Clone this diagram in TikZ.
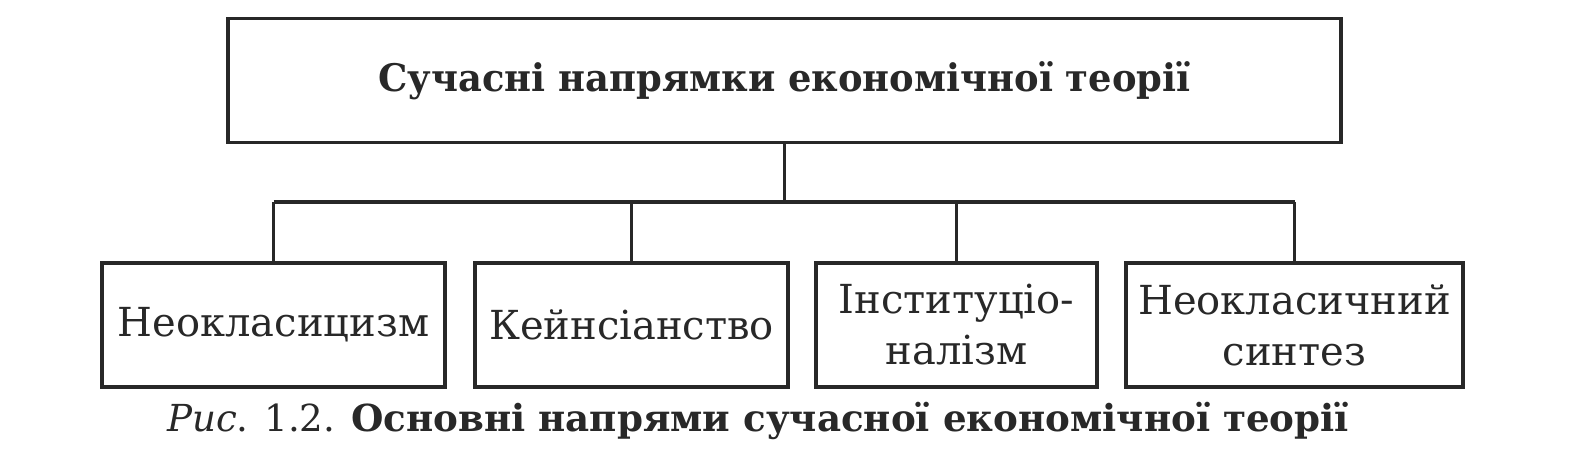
\documentclass[tikz,border=0pt]{standalone}
\usepackage{fontspec}
\setmainfont{DejaVu Serif}
\newfontfamily\titlefont[FakeStretch=0.97]{DejaVu Serif}
\definecolor{ink}{RGB}{40,40,40}
\begin{document}
\begin{tikzpicture}[x=0.5pt,y=-0.5pt,
  line width=1.8pt, draw=ink,
  box/.style={draw=ink, line width=1.8pt, minimum height=62pt, inner sep=0pt, align=center, text=ink, font=\fontsize{20}{25.5}\selectfont},
  topbox/.style={box, font=\titlefont\bfseries\fontsize{19}{22}\selectfont}]
\useasboundingbox (0,0) rectangle (1572,463);
\node[topbox, minimum width=556.5pt] (top) at (784.5,80.5) {Сучасні напрямки економічної теорії};
\node[box, minimum width=171.5pt] (b1) at (273.5,325) {Неокласицизм};
\node[box, minimum width=156.5pt] (b2) at (631.5,325) {Кейнсіанство};
\node[box, minimum width=140.5pt] (b3) at (956.5,325) {Інституціо-\\налізм};
\node[box, minimum width=168.5pt] (b4) at (1294.5,325) {Неокласичний\\синтез};
\coordinate (bus) at (0,202);
\draw (top.south) -- (top.south |- bus);
\draw (b1.north |- bus) -- (b4.north |- bus);
\foreach \b in {b1,b2,b3,b4} \draw (\b.north) -- (\b.north |- bus);
\node[anchor=base, text=ink, font=\fontsize{18.6}{22}\selectfont] (cap) at (758,431) {\textit{Рис}. 1.2. \textbf{Основні напрями сучасної економічної теорії}};
\end{tikzpicture}
\end{document}
